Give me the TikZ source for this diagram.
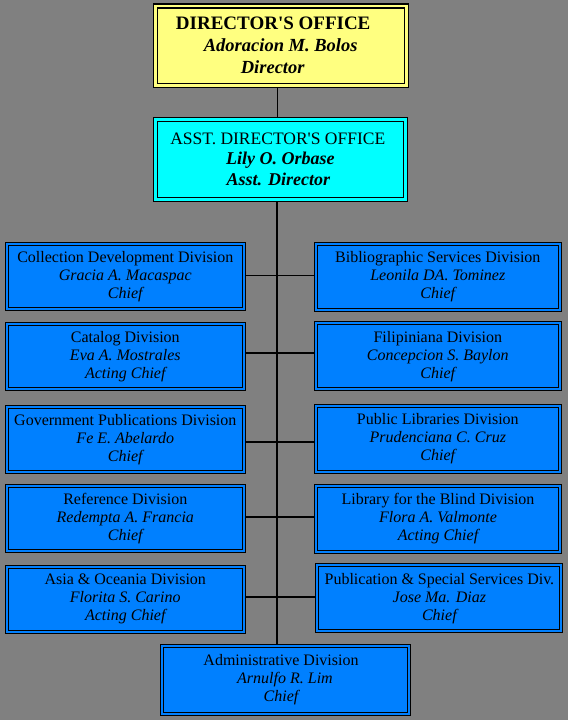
\documentclass[tikz,border=0pt]{standalone}
\usepackage{fontspec}
\setmainfont{Liberation Serif}[Ligatures=TeXOff]
\pgfdeclarelayer{bg}
\pgfdeclarelayer{lines}
\pgfsetlayers{bg,lines,main}
\definecolor{bggray}{RGB}{128,128,128}
\definecolor{divblue}{RGB}{0,128,255}
\definecolor{dircyan}{RGB}{0,255,255}
\definecolor{diryellow}{RGB}{255,255,128}
\tikzset{
  topbox/.style={draw=black, line width=1.2pt, double=#1, double distance=2.8pt,
    fill=#1, inner sep=0pt, align=center},
  divbox/.style={draw=black, line width=1pt, double=divblue, double distance=2pt,
    fill=divblue, inner sep=0pt, align=center,
    font=\fontsize{16}{18}\selectfont},
  leftbox/.style={divbox, minimum width=236.5pt, minimum height=65pt},
  rightbox/.style={divbox, minimum width=244pt, minimum height=66pt},
  thinline/.style={line width=1pt, draw=black},
  thickline/.style={line width=2pt, draw=black},
}
\begin{document}
\begin{tikzpicture}[x=1pt,y=-1pt]
\useasboundingbox (0,0) rectangle (568,720);
\begin{pgfonlayer}{bg}
\fill[bggray] (0,0) rectangle (568,720);
\end{pgfonlayer}

% top boxes
\node[topbox=diryellow, minimum width=250.8pt, minimum height=79.5pt,
      font=\fontsize{18.5}{22}\selectfont\bfseries] (dir) at (280.7,45.7)
  {\fontsize{19}{22}\selectfont DIRECTOR'S OFFICE\hspace*{15pt}\\
   \itshape Adoracion M. Bolos\hspace*{25pt}\\
   \itshape Director\hspace*{16pt}};
\node[topbox=dircyan, minimum width=250.1pt, minimum height=79.8pt,
      font=\fontsize{18}{20.8}\selectfont] (asst) at (280.3,159.2)
  {\fontsize{17.5}{20.8}\selectfont ASST. DIRECTOR'S OFFICE\hspace*{5pt}\\
   \bfseries\itshape Lily O. Orbase\hspace*{6pt}\\
   \bfseries\itshape Asst. Director\hspace*{4pt}};

% left column
\node[leftbox] (coll) at (125.3,276.8) {Collection Development Division\\ \itshape Gracia A. Macaspac\\ \itshape Chief};
\node[leftbox] (cat) at (125.3,356.6) {Catalog Division\\ \itshape Eva A. Mostrales\\ \itshape Acting Chief};
\node[leftbox] (gov) at (125.3,439.6) {Government Publications Division\\ \itshape Fe E. Abelardo\\ \itshape Chief};
\node[leftbox] (ref) at (125.3,518.6) {Reference Division\\ \itshape Redempta A. Francia\\ \itshape Chief};
\node[leftbox] (asia) at (125.3,599.0) {Asia \& Oceania Division\\ \itshape Florita S. Carino\\ \itshape Acting Chief};

% right column
\node[rightbox] (bib) at (437.8,276.7) {Bibliographic Services Division\\ \itshape Leonila DA. Tominez\\ \itshape Chief};
\node[rightbox] (fil) at (437.8,356.4) {Filipiniana Division\\ \itshape Concepcion S. Baylon\\ \itshape Chief};
\node[rightbox] (pub) at (437.8,438.7) {Public Libraries Division\\ \itshape Prudenciana C. Cruz\\ \itshape Chief};
\node[rightbox] (blind) at (438.0,518.6) {Library for the Blind Division\\ \itshape Flora A. Valmonte\\ \itshape Acting Chief};
\node[rightbox] (pss) at (439.4,598.3) {Publication \& Special Services Div.\\ \itshape Jose Ma. Diaz\\ \itshape Chief};

% bottom
\node[divbox, minimum width=247pt, minimum height=68pt] (admin) at (285,680)
  {Administrative Division\hspace*{8pt}\\ \itshape Arnulfo R. Lim\hspace*{8pt}\\ \itshape Chief\hspace*{8pt}};

% connectors
\coordinate (trunk) at (277,0);
\coordinate (j1) at (277,275.7);
\coordinate (j2) at (277,353.3);
\coordinate (j3) at (277,441.7);
\coordinate (j4) at (277,517);
\coordinate (j5) at (277,596.7);
\begin{pgfonlayer}{lines}
\draw[thinline] (dir.south -| trunk) -- (asst.north -| trunk);
\draw[thickline] (asst.south -| trunk) -- (admin.north -| trunk);
\draw[thinline] (coll.east |- j1) -- (bib.west |- j1);
\draw[thickline] (cat.east |- j2) -- (fil.west |- j2);
\draw[thickline] (gov.east |- j3) -- (pub.west |- j3);
\draw[thickline] (ref.east |- j4) -- (blind.west |- j4);
\draw[thickline] (asia.east |- j5) -- (pss.west |- j5);
\end{pgfonlayer}
\end{tikzpicture}
\end{document}
